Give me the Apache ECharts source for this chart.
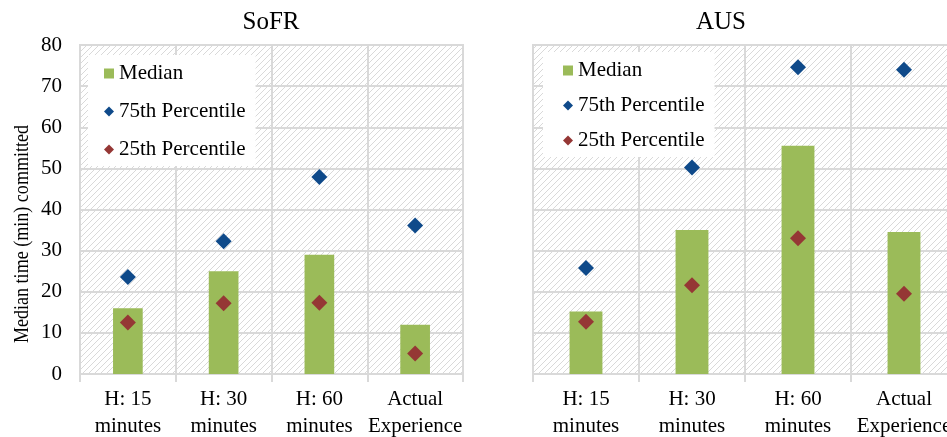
<!DOCTYPE html>
<html>
<head>
<meta charset="utf-8">
<script src="https://cdn.jsdelivr.net/npm/echarts@6/dist/echarts.min.js"></script>
<style>
  html, body { margin: 0; padding: 0; background: #fff; }
  #chart { width: 947px; height: 437px; }
</style>
</head>
<body>
<div id="chart"></div>
<script>
// Categories shared by both panels
const categories = ['H: 15\nminutes', 'H: 30\nminutes', 'H: 60\nminutes', 'Actual\nExperience'];

// SoFR panel
const sofrMedian = [16.0, 25.0, 29.0, 12.0];
const sofrP75 = [23.6, 32.3, 47.9, 36.1];
const sofrP25 = [12.5, 17.2, 17.3, 5.0];

// AUS panel
const ausMedian = [15.2, 35.0, 55.5, 34.5];
const ausP75 = [25.8, 50.2, 74.6, 74.0];
const ausP25 = [12.7, 21.6, 33.0, 19.5];

const panelTitles = ['SoFR', 'AUS'];
const yName = 'Median time (min) committed';

const FONT = 'Liberation Serif, Times New Roman, serif';
const GREEN = '#9bbb59';
const BLUE = '#0f4a8a';
const RED = '#953735';
const GRID_LINE = '#d9d9d9';

// diagonal hatch tile for the plot backgrounds
function hatchTile() {
  const s = 6;
  const c = document.createElement('canvas');
  c.width = s; c.height = s;
  const g = c.getContext('2d');
  g.fillStyle = '#ffffff';
  g.fillRect(0, 0, s, s);
  g.strokeStyle = '#d9d9d9';
  g.lineWidth = 1;
  g.beginPath();
  g.moveTo(-1, s + 1); g.lineTo(s + 1, -1);
  g.moveTo(-1, 1); g.lineTo(1, -1);
  g.moveTo(s - 1, s + 1); g.lineTo(s + 1, s - 1);
  g.stroke();
  return c;
}
const hatch = { image: hatchTile(), repeat: 'repeat' };

const chart = echarts.init(document.getElementById('chart'), null, { renderer: 'canvas' });

function xAxisFor(gi) {
  return {
    type: 'category', gridIndex: gi, data: categories, boundaryGap: true,
    axisLine: { show: true, lineStyle: { color: GRID_LINE, width: 2 } },
    axisTick: { show: true, interval: 0, length: 8, lineStyle: { color: GRID_LINE, width: 2 } },
    splitLine: { show: true, interval: 0, lineStyle: { color: GRID_LINE, width: 2 } },
    axisLabel: { interval: 0, color: '#000', fontFamily: FONT, fontSize: 21, lineHeight: 27, margin: 12 }
  };
}
function yAxisFor(gi, showLabels) {
  return {
    type: 'value', gridIndex: gi, min: 0, max: 80, interval: 10,
    axisLine: { show: false }, axisTick: { show: false },
    splitLine: { show: true, lineStyle: { color: GRID_LINE, width: 2 } },
    axisLabel: { show: showLabels, color: '#000', fontFamily: FONT, fontSize: 21, margin: 18 }
  };
}
function legendFor(left, top, gap, pad) {
  return {
    orient: 'vertical', left: left, top: top, itemGap: gap, padding: pad,
    itemWidth: 10, itemHeight: 10, backgroundColor: '#ffffff',
    textStyle: { color: '#000', fontFamily: FONT, fontSize: 21 },
    data: [
      { name: 'Median', icon: 'rect' },
      { name: '75th Percentile', icon: 'diamond' },
      { name: '25th Percentile', icon: 'diamond' }
    ]
  };
}
function seriesFor(gi, med, p75, p25) {
  return [
    { name: 'Median', type: 'bar', xAxisIndex: gi, yAxisIndex: gi, data: med,
      barWidth: '31%', itemStyle: { color: GREEN }, z: 2 },
    { name: '75th Percentile', type: 'scatter', xAxisIndex: gi, yAxisIndex: gi, data: p75,
      symbol: 'diamond', symbolSize: 16, itemStyle: { color: BLUE, opacity: 1 }, z: 3 },
    { name: '25th Percentile', type: 'scatter', xAxisIndex: gi, yAxisIndex: gi, data: p25,
      symbol: 'diamond', symbolSize: 16, itemStyle: { color: RED, opacity: 1 }, z: 3 }
  ];
}

chart.setOption({
  animation: false,
  backgroundColor: '#ffffff',
  grid: [
    { left: 80, top: 45, width: 383, height: 329, show: true, backgroundColor: hatch,
      borderColor: GRID_LINE, borderWidth: 2, outerBoundsMode: 'none', containLabel: false },
    { left: 533, top: 45, width: 424, height: 329, show: true, backgroundColor: hatch,
      borderColor: GRID_LINE, borderWidth: 2, outerBoundsMode: 'none', containLabel: false }
  ],
  xAxis: [xAxisFor(0), xAxisFor(1)],
  yAxis: [yAxisFor(0, true), yAxisFor(1, false)],
  legend: [
    legendFor(88, 55, 17, [8, 10, 6, 16]),
    legendFor(543, 52, 14, [8, 10, 6, 20])
  ],
  graphic: [
    { type: 'text', x: 271, y: 22, silent: true,
      style: { text: panelTitles[0], fill: '#000', font: '25px ' + FONT, textAlign: 'center', textVerticalAlign: 'middle' } },
    { type: 'text', x: 721, y: 22, silent: true,
      style: { text: panelTitles[1], fill: '#000', font: '25px ' + FONT, textAlign: 'center', textVerticalAlign: 'middle' } },
    // vertical axis title, slightly condensed along its length
    { type: 'text', x: 22, y: 234, rotation: Math.PI / 2, scaleX: 0.86, silent: true,
      style: { text: yName, fill: '#000', font: '21px ' + FONT, textAlign: 'center', textVerticalAlign: 'middle' } }
  ],
  series: [].concat(
    seriesFor(0, sofrMedian, sofrP75, sofrP25),
    seriesFor(1, ausMedian, ausP75, ausP25)
  )
});
</script>
</body>
</html>
